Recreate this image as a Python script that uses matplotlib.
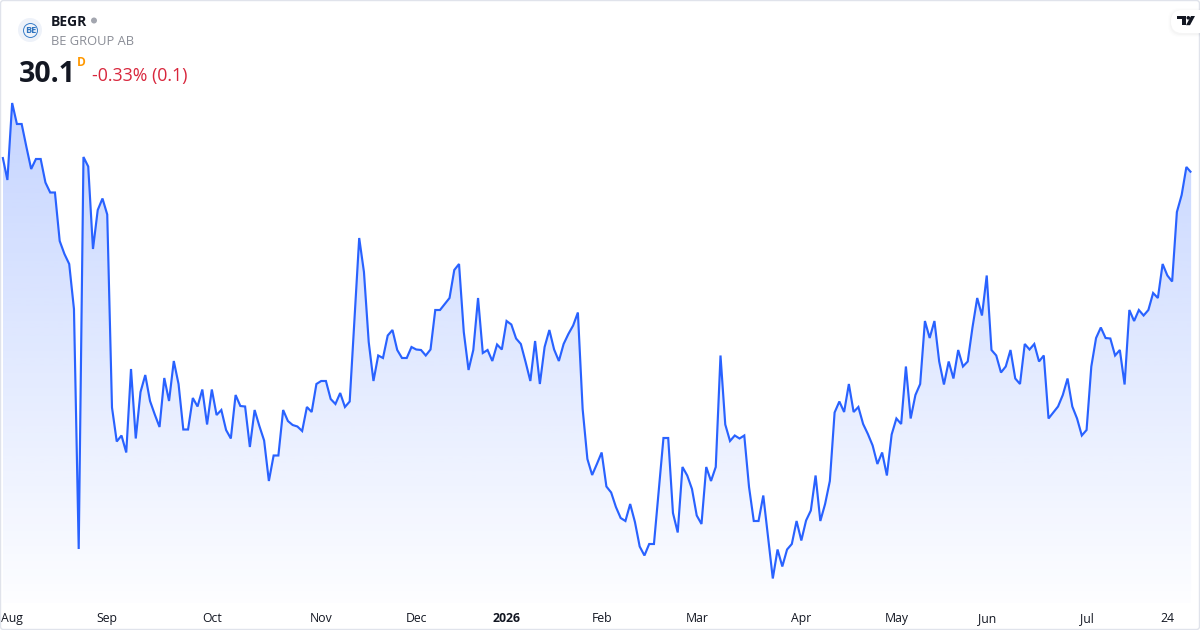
import numpy as np
import matplotlib
matplotlib.use("Agg")
import matplotlib.pyplot as plt
from matplotlib.patches import Circle, Rectangle, Polygon, FancyBboxPatch

plt.rcParams['font.family'] = ['Open Sans', 'DejaVu Sans']

ticker = "BEGR"
company = "BE GROUP AB"
last_price = "30.1"
interval = "D"
change_text = "-0.33% (0.1)"

prices_aug_oct = [
    30.41, 29.95, 31.49, 31.07, 31.07, 30.61, 30.17, 30.37, 30.37, 29.90, 29.70, 29.70,
    28.73, 28.47, 28.27, 27.37, 22.57, 30.41, 30.22, 28.57, 29.35, 29.58, 29.26, 25.40,
    24.72, 24.84, 24.50, 26.17, 24.78, 25.71, 26.05, 25.53, 25.26, 25.01, 25.99, 25.53,
    26.33, 25.87, 24.96, 24.96, 25.59, 25.42, 25.76, 25.06, 25.76, 25.25, 25.35, 24.95,
    24.78, 25.65, 25.43, 25.42, 24.61, 25.35, 25.03, 24.74, 23.93, 24.44, 24.44, 25.35,
    25.13, 25.05, 25.02]
prices_nov_jan = [
    24.93, 25.41, 25.31, 25.87, 25.93, 25.93, 25.57, 25.47, 25.69, 25.41, 25.52, 27.14,
    28.79, 28.11, 26.71, 25.93, 26.44, 26.39, 26.84, 26.95, 26.55, 26.39, 26.39, 26.61,
    26.56, 26.55, 26.44, 26.56, 27.35, 27.35, 27.47, 27.59, 28.15, 28.27, 26.91, 26.15,
    26.55, 27.59, 26.49, 26.55, 26.33, 26.66, 26.56, 27.13, 27.06, 26.78, 26.67, 26.31,
    25.93, 26.73, 25.87, 26.61, 26.95, 26.56, 26.33, 26.67, 26.87, 27.04, 27.30]
prices_feb_apr = [
    25.37, 24.37, 24.05, 24.27, 24.50, 23.82, 23.70, 23.41, 23.19, 23.13, 23.47, 23.11,
    22.62, 22.44, 22.67, 22.67, 23.74, 24.79, 24.79, 23.29, 22.90, 24.21, 24.04, 23.77,
    23.24, 23.07, 24.21, 23.93, 24.21, 26.44, 25.06, 24.73, 24.84, 24.78, 24.84, 23.81,
    23.13, 23.13, 23.64, 22.81, 21.98, 22.56, 22.22, 22.56, 22.67, 23.13, 22.74, 23.14,
    23.34, 24.04, 23.13, 23.47, 23.93, 25.30, 25.52, 25.31, 25.87, 25.31, 25.41, 25.07]
prices_may_jul = [
    24.87, 24.64, 24.27, 24.50, 24.04, 24.86, 25.18, 25.07, 26.22, 25.18, 25.65, 25.87,
    27.13, 26.79, 27.13, 26.32, 25.86, 26.32, 25.98, 26.55, 26.22, 26.32, 27.00, 27.59,
    27.24, 28.04, 26.55, 26.44, 26.10, 26.22, 26.55, 25.98, 25.87, 26.67, 26.56, 26.67,
    26.32, 26.44, 25.18, 25.30, 25.42, 25.65, 25.98, 25.42, 25.18, 24.84, 24.95, 26.22,
    26.79, 27.00, 26.79, 26.78, 26.44, 26.55, 25.86, 27.35, 27.13, 27.35, 27.24, 27.35,
    27.69, 27.59, 28.27, 28.04, 27.92, 29.31, 29.65, 30.21, 30.10]

tick_labels = ["Aug", "Sep", "Oct", "Nov", "Dec", "2026", "Feb", "Mar", "Apr", "May", "Jun", "Jul", "24"]
tick_index = [2, 22, 44, 67, 87, 106, 126, 146, 168, 188, 207, 228, 245]

values = np.array(prices_aug_oct + prices_nov_jan + prices_feb_apr + prices_may_jul)
idx = np.arange(len(values))

W, H = 1200, 630
PLOT_BOTTOM = 603
X0, DX = 2.65, 4.754
PX_PER_UNIT = 50.0
REF_Y = 172.5

def y_at(px):
    return values[-1] + (REF_Y - px) / PX_PER_UNIT

LINE = "#2962FF"
fig = plt.figure(figsize=(12, 6.3), dpi=100, facecolor="white")
ax = fig.add_axes([0, (H - PLOT_BOTTOM) / H, 1, PLOT_BOTTOM / H])
xlim = (-X0 / DX, (W - X0) / DX)
ylim = (y_at(PLOT_BOTTOM), y_at(0))

# gradient area under the line
poly = ax.fill_between(idx, values, ylim[0], color="none", linewidth=0)
n = 256
alpha = np.linspace(0.27, 0.01, n)[:, None]
grad = np.zeros((n, 1, 4))
grad[..., 0] = 0x29 / 255
grad[..., 1] = 0x62 / 255
grad[..., 2] = 1.0
grad[..., 3] = alpha
im = ax.imshow(grad, origin="upper", aspect="auto", interpolation="bilinear",
               extent=(idx[0], idx[-1], ylim[0], values.max()), zorder=1)
im.set_clip_path(poly.get_paths()[0], transform=ax.transData)

ax.plot(idx, values, color=LINE, lw=1.55, zorder=3, solid_joinstyle="miter", solid_capstyle="butt")

ax.set_xlim(*xlim)
ax.set_ylim(*ylim)
ax.set_yticks([])
ax.set_xticks(tick_index)
ax.set_xticklabels(tick_labels, fontsize=8.8, color="#131722", va="baseline")
ax.tick_params(axis="x", length=0, pad=13.7)
for lab, t in zip(ax.get_xticklabels(), tick_labels):
    if t == "2026":
        lab.set_fontweight("bold")
for s in ax.spines.values():
    s.set_visible(False)
ax.patch.set_alpha(0)

# overlay in pixel coordinates for header, logos and frame
ov = fig.add_axes([0, 0, 1, 1], facecolor="none")
ov.set_xlim(0, W)
ov.set_ylim(H, 0)
ov.axis("off")

ov.add_patch(FancyBboxPatch((0.5, 0.5), W - 1, H - 1, boxstyle="round,pad=0,rounding_size=3",
                            fc="none", ec="#e0e3eb", lw=1.0))

# symbol logo
ov.add_patch(Circle((30, 30), 12, fc="#eef2f9", ec="none"))
ov.add_patch(Circle((30.5, 30.5), 7, fc="none", ec="#3b7fc9", lw=0.7))
ov.text(30.5, 30.5, "BE", fontsize=6.6, color="#2f74bf", fontweight="bold", ha="center", va="center")

ov.text(51, 26, ticker, fontsize=10, fontweight="bold", color="#131722", ha="left", va="baseline")
ov.add_patch(Circle((94, 20.5), 3, fc="#a3a6af", ec="none"))
ov.text(51, 45, company, fontsize=9.25, color="#8a8d96", ha="left", va="baseline")
ov.text(19, 82, last_price, fontsize=20.5, fontweight="bold", color="#131722", ha="left", va="baseline")
ov.text(77, 66, interval, fontsize=8.6, fontweight="bold", color="#ff9800", ha="left", va="baseline")
ov.text(92, 81, change_text, fontsize=12.8, color="#d8263c", ha="left", va="baseline")

# TradingView badge
for i, a in enumerate([0.008, 0.012, 0.018]):
    g = 3 - i
    ov.add_patch(FancyBboxPatch((1171 - g, 10 - g + 1), 40 + 2 * g, 23 + 2 * g,
                                boxstyle="round,pad=0,rounding_size=11", fc="black", ec="none",
                                alpha=a, clip_on=True))
ov.add_patch(FancyBboxPatch((1171, 10), 40, 23, boxstyle="round,pad=0,rounding_size=11",
                            fc="white", ec="none", clip_on=True))
ov.add_patch(Rectangle((1177, 16), 9.2, 3.2, fc="#131722", ec="none"))
ov.add_patch(Rectangle((1181.5, 16), 4.7, 9.2, fc="#131722", ec="none"))
ov.add_patch(Circle((1188.3, 17.8), 1.8, fc="#131722", ec="none"))
ov.add_patch(Polygon([(1191, 16), (1195, 16), (1190, 25.2), (1186, 25.2)], fc="#131722", ec="none"))

fig.savefig("out.png", dpi=100, facecolor="white")
